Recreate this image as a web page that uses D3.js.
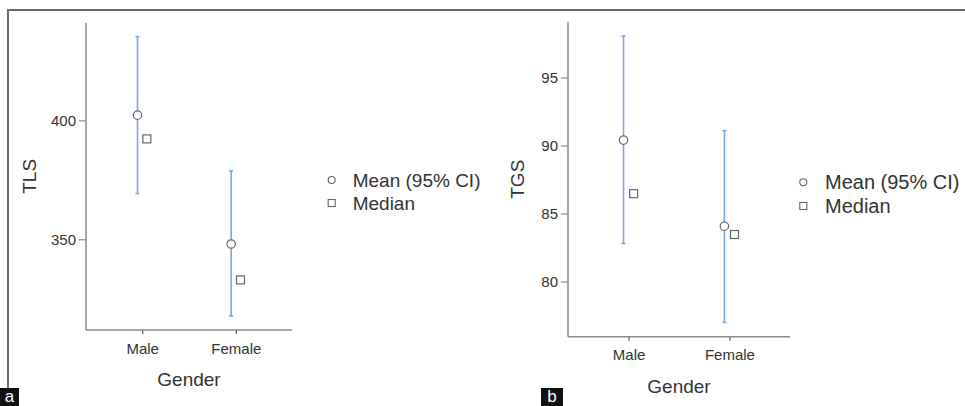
<!DOCTYPE html>
<html>
<head>
<meta charset="utf-8">
<script src="https://cdn.jsdelivr.net/npm/d3@7"></script>
<style>
  body { margin: 0; background: #fff; }
  svg { display: block; font-family: "Liberation Sans", Arial, sans-serif; }
</style>
</head>
<body>
<svg id="chart" width="965" height="406"></svg>
<script>
const categories = ["Male", "Female"];

const tlsMean   = [402.2, 348.0];
const tlsLower  = [369.2, 317.7];
const tlsUpper  = [435.2, 378.8];
const tlsMedian = [392.2, 332.9];
const tlsTicks  = [350, 400];

const tgsMean   = [90.4, 84.07];
const tgsLower  = [82.8, 77.0];
const tgsUpper  = [98.05, 91.1];
const tgsMedian = [86.46, 83.46];
const tgsTicks  = [80, 85, 90, 95];

const legendLabels = ["Mean (95% CI)", "Median"];

const svg = d3.select("#chart");
const axisColor = "#8a8a8a";
const textColor = "#333";
const barColor = "#7aa8e4";
const markColor = "#666";

// frame
svg.append("line").attr("x1", 8).attr("x2", 965).attr("y1", 10).attr("y2", 10)
  .attr("stroke", "#6a6a6a").attr("stroke-width", 2);
svg.append("line").attr("x1", 8).attr("x2", 8).attr("y1", 9).attr("y2", 388)
  .attr("stroke", "#6a6a6a").attr("stroke-width", 2);

function panel(cfg) {
  const { xr, yr, mean, lower, upper, median, ticks, title, legend, xTitleY } = cfg;
  const lo = d3.min(lower), hi = d3.max(upper);
  const pad = (hi - lo) * 0.05;
  const y = d3.scaleLinear().domain([lo - pad, hi + pad]).range(yr);
  const x = d3.scalePoint().domain(categories).range(xr).padding(0.6);
  const off = x.step() * 0.05;
  const g = svg.append("g");

  // y axis
  const ya = g.append("g").attr("transform", `translate(${xr[0]},0)`)
    .call(d3.axisLeft(y).tickValues(ticks).tickSize(7).tickPadding(3).tickSizeOuter(0));
  ya.select(".domain").remove();
  ya.selectAll(".tick line").attr("stroke", axisColor).attr("stroke-width", 1.2);
  ya.selectAll(".tick text").attr("fill", textColor).style("font-size", "15px");
  g.append("line").attr("x1", xr[0]).attr("x2", xr[0]).attr("y1", yr[1]).attr("y2", yr[0])
    .attr("stroke", axisColor).attr("stroke-width", 1.5);

  // x axis
  const xa = g.append("g").attr("transform", `translate(0,${yr[0]})`)
    .call(d3.axisBottom(x).tickSize(4).tickPadding(9).tickSizeOuter(0));
  xa.select(".domain").remove();
  xa.selectAll(".tick line").attr("stroke", "#555").attr("stroke-width", 1.2);
  xa.selectAll(".tick text").attr("fill", textColor).style("font-size", "15px");
  g.append("line").attr("x1", xr[0]).attr("x2", xr[1]).attr("y1", yr[0]).attr("y2", yr[0])
    .attr("stroke", axisColor).attr("stroke-width", 1.5);

  // titles
  g.append("text").attr("x", (xr[0] + xr[1]) / 2).attr("y", xTitleY)
    .attr("text-anchor", "middle").attr("fill", textColor).style("font-size", "19px").text("Gender");
  g.append("text").attr("transform", `translate(${cfg.yTitleX},${(yr[0] + yr[1]) / 2}) rotate(-90)`)
    .attr("text-anchor", "middle").attr("dominant-baseline", "central")
    .attr("fill", textColor).style("font-size", "19px").text(title);

  // error bars
  categories.forEach((c, i) => {
    const cx = x(c) - off;
    g.append("line").attr("x1", cx).attr("x2", cx).attr("y1", y(upper[i])).attr("y2", y(lower[i]))
      .attr("stroke", barColor).attr("stroke-width", 1.6);
    [upper[i], lower[i]].forEach(v => {
      g.append("line").attr("x1", cx - 2).attr("x2", cx + 2).attr("y1", y(v)).attr("y2", y(v))
        .attr("stroke", barColor).attr("stroke-width", 1.6);
    });
  });
  // medians
  g.selectAll(".med").data(median).enter().append("rect")
    .attr("x", (d, i) => x(categories[i]) + off - 4)
    .attr("y", d => y(d) - 4)
    .attr("width", 8).attr("height", 8)
    .attr("fill", "#fff").attr("stroke", markColor).attr("stroke-width", 1.2);
  // means
  g.selectAll(".mean").data(mean).enter().append("circle")
    .attr("cx", (d, i) => x(categories[i]) - off)
    .attr("cy", d => y(d))
    .attr("r", 4.2)
    .attr("fill", "#fff").attr("stroke", markColor).attr("stroke-width", 1.2);

  // legend
  const L = legend;
  g.append("circle").attr("cx", L.mx).attr("cy", L.y0).attr("r", 3.5)
    .attr("fill", "#fff").attr("stroke", markColor).attr("stroke-width", 1.1);
  g.append("rect").attr("x", L.mx - 3.5).attr("y", L.y1 - 3.5).attr("width", 7).attr("height", 7)
    .attr("fill", "#fff").attr("stroke", markColor).attr("stroke-width", 1.1);
  [L.y0, L.y1].forEach((yy, i) => {
    g.append("text").attr("x", L.tx).attr("y", yy).attr("dominant-baseline", "central")
      .attr("fill", textColor).style("font-size", L.fs + "px").text(legendLabels[i]);
  });
}

panel({
  xr: [86, 292], yr: [330, 22.7],
  mean: tlsMean, lower: tlsLower, upper: tlsUpper, median: tlsMedian,
  ticks: tlsTicks, title: "TLS", yTitleX: 29, xTitleY: 386,
  legend: { mx: 331.7, tx: 352.7, y0: 180, y1: 203, fs: 19 }
});
panel({
  xr: [568, 790], yr: [336.7, 21.7],
  mean: tgsMean, lower: tgsLower, upper: tgsUpper, median: tgsMedian,
  ticks: tgsTicks, title: "TGS", yTitleX: 517.7, xTitleY: 393,
  legend: { mx: 803.3, tx: 825, y0: 182.3, y1: 206, fs: 20 }
});

// panel labels
[{ t: "a", x: 0, w: 19 }, { t: "b", x: 541, w: 22 }].forEach(p => {
  svg.append("rect").attr("x", p.x).attr("y", 388).attr("width", p.w).attr("height", 18).attr("fill", "#111");
  svg.append("text").attr("x", p.x + p.w / 2).attr("y", 402).attr("text-anchor", "middle")
    .attr("fill", "#fff").style("font-size", "17px").text(p.t);
});
</script>
</body>
</html>
